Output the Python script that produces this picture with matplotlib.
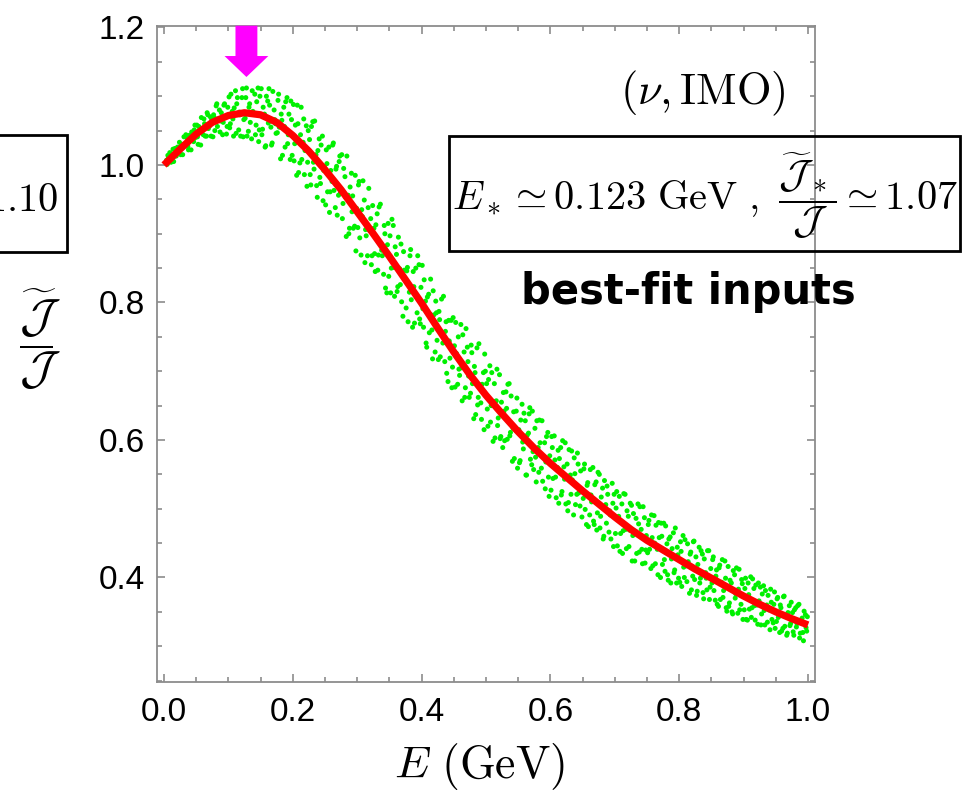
import numpy as np
import matplotlib
matplotlib.use("Agg")
import matplotlib.pyplot as plt
from matplotlib.patches import Rectangle, FancyArrow
from matplotlib.ticker import MultipleLocator

plt.rcParams["mathtext.fontset"] = "cm"
plt.rcParams["font.family"] = ["Liberation Sans", "DejaVu Sans"]

# red curve: J~/J versus E (GeV)
curve_E = [0.000, 0.025, 0.050, 0.075, 0.100, 0.125, 0.150, 0.175, 0.200, 0.225,
           0.250, 0.275, 0.300, 0.325, 0.350, 0.375, 0.400, 0.425, 0.450, 0.475,
           0.500, 0.525, 0.550, 0.575, 0.600, 0.625, 0.650, 0.675, 0.700, 0.725,
           0.750, 0.775, 0.800, 0.825, 0.850, 0.875, 0.900, 0.925, 0.950, 0.975, 1.000]
curve_J = [1.000, 1.023, 1.045, 1.062, 1.072, 1.076, 1.073, 1.062, 1.043, 1.020,
           0.993, 0.964, 0.932, 0.900, 0.867, 0.833, 0.799, 0.763, 0.728, 0.695,
           0.665, 0.638, 0.612, 0.588, 0.566, 0.546, 0.526, 0.507, 0.488, 0.470,
           0.454, 0.440, 0.426, 0.412, 0.399, 0.386, 0.373, 0.361, 0.350, 0.340, 0.331]

# green scatter points, first half
dots_E_a = [
    0.004, 0.006, 0.008, 0.010, 0.012, 0.014, 0.016, 0.019, 0.021, 0.023,
    0.026, 0.028, 0.031, 0.033, 0.036, 0.038, 0.041, 0.043, 0.046, 0.048,
    0.051, 0.053, 0.056, 0.058, 0.061, 0.063, 0.066, 0.068, 0.071, 0.073,
    0.076, 0.078, 0.081, 0.083, 0.086, 0.088, 0.091, 0.093, 0.096, 0.098,
    0.101, 0.103, 0.106, 0.108, 0.111, 0.113, 0.116, 0.118, 0.121, 0.123,
    0.126, 0.128, 0.131, 0.133, 0.136, 0.138, 0.141, 0.143, 0.146, 0.148,
    0.151, 0.153, 0.156, 0.158, 0.161, 0.163, 0.166, 0.168, 0.171, 0.173,
    0.176, 0.178, 0.181, 0.183, 0.186, 0.188, 0.191, 0.193, 0.196, 0.198,
    0.201, 0.203, 0.206, 0.208, 0.211, 0.213, 0.216, 0.218, 0.221, 0.223,
    0.226, 0.228, 0.231, 0.233, 0.236, 0.238, 0.241, 0.243, 0.246, 0.248,
    0.251, 0.253, 0.256, 0.258, 0.261, 0.263, 0.266, 0.268, 0.271, 0.273,
    0.276, 0.278, 0.281, 0.283, 0.286, 0.288, 0.291, 0.293, 0.296, 0.298,
    0.301, 0.303, 0.306, 0.308, 0.311, 0.313, 0.316, 0.318, 0.321, 0.323,
    0.326, 0.328, 0.331, 0.333, 0.336, 0.338, 0.341, 0.343, 0.346, 0.348,
    0.351, 0.353, 0.356, 0.358, 0.361, 0.363, 0.366, 0.368, 0.371, 0.373,
    0.376, 0.378, 0.381, 0.383, 0.386, 0.388, 0.391, 0.393, 0.396, 0.398,
    0.401, 0.403, 0.406, 0.408, 0.411, 0.413, 0.416, 0.418, 0.421, 0.423,
    0.426, 0.428, 0.431, 0.433, 0.436, 0.438, 0.441, 0.443, 0.446, 0.448,
    0.451, 0.453, 0.456, 0.458, 0.461, 0.463, 0.466, 0.468, 0.471, 0.473,
    0.476, 0.478, 0.481, 0.483, 0.486, 0.488, 0.491, 0.493, 0.496, 0.498,
    0.501, 0.503, 0.506, 0.508, 0.511, 0.513, 0.516, 0.518, 0.521, 0.523,
    0.526, 0.528, 0.531, 0.533, 0.536, 0.538, 0.541, 0.543, 0.546, 0.548,
    0.551, 0.553, 0.556, 0.558, 0.561, 0.563, 0.566, 0.568, 0.571, 0.573,
    0.576, 0.578, 0.581, 0.583, 0.586, 0.588, 0.591, 0.593, 0.596, 0.598,
    0.601, 0.603, 0.606, 0.608, 0.611, 0.613, 0.616, 0.618, 0.621, 0.623,
    0.626, 0.628, 0.631, 0.633, 0.636, 0.638, 0.641, 0.643, 0.646, 0.648,
    0.651, 0.653, 0.656, 0.658, 0.661, 0.663, 0.666, 0.668, 0.671, 0.673,
    0.676, 0.678, 0.681, 0.683, 0.686, 0.688, 0.691, 0.693, 0.696, 0.698,
    0.701, 0.703, 0.706, 0.708, 0.711, 0.713, 0.716, 0.718, 0.721, 0.723,
    0.726, 0.728, 0.731, 0.733, 0.736, 0.738, 0.741, 0.743, 0.746, 0.748,
    0.751, 0.753, 0.756, 0.758, 0.761, 0.763, 0.766, 0.768, 0.771, 0.773,
    0.776, 0.778, 0.781, 0.783, 0.786, 0.788, 0.791, 0.793, 0.796, 0.798,
    0.801, 0.803, 0.806, 0.808, 0.811, 0.813, 0.816, 0.818, 0.821, 0.823,
    0.826, 0.828, 0.831, 0.833, 0.836, 0.838, 0.841, 0.843, 0.846, 0.848,
    0.851, 0.853, 0.856, 0.858, 0.861, 0.863, 0.866, 0.868, 0.871, 0.873,
    0.876, 0.878, 0.881, 0.883, 0.886, 0.888, 0.891, 0.893, 0.896, 0.898,
    0.901, 0.903, 0.906, 0.908, 0.911, 0.913, 0.916, 0.918, 0.921, 0.923,
    0.926, 0.928, 0.931, 0.933, 0.936, 0.938, 0.941, 0.943, 0.946, 0.948,
    0.951, 0.953, 0.956, 0.958, 0.961, 0.963, 0.966, 0.968, 0.971, 0.973,
    0.976, 0.978, 0.981, 0.983, 0.986, 0.988, 0.991, 0.993, 0.996, 0.998,
]
dots_J_a = [
    1.007, 1.014, 1.005, 1.014, 1.005, 1.023, 1.016, 1.013, 1.026, 1.020,
    1.015, 1.030, 1.041, 1.028, 1.039, 1.022, 1.037, 1.048, 1.034, 1.058,
    1.058, 1.030, 1.052, 1.069, 1.044, 1.060, 1.042, 1.073, 1.057, 1.042,
    1.041, 1.069, 1.086, 1.056, 1.080, 1.064, 1.044, 1.087, 1.071, 1.056,
    1.099, 1.060, 1.078, 1.042, 1.108, 1.089, 1.051, 1.073, 1.098, 1.041,
    1.068, 1.112, 1.049, 1.089, 1.038, 1.078, 1.103, 1.058, 1.112, 1.051,
    1.111, 1.052, 1.074, 1.028, 1.093, 1.111, 1.055, 1.032, 1.080, 1.060,
    1.047, 1.103, 1.009, 1.065, 1.084, 1.026, 1.098, 1.044, 1.008, 1.066,
    1.088, 1.031, 0.985, 1.060, 1.003, 1.084, 1.033, 0.986, 1.057, 1.004,
    1.037, 0.971, 1.063, 0.994, 1.015, 0.953, 1.038, 0.973, 1.042, 0.992,
    0.942, 1.002, 1.026, 0.961, 0.976, 1.032, 0.938, 0.998, 0.956, 1.013,
    1.015, 0.944, 0.983, 0.896, 0.956, 0.908, 0.988, 0.955, 0.911, 0.875,
    0.909, 0.976, 0.869, 0.925, 0.949, 0.906, 0.868, 0.966, 0.922, 0.868,
    0.908, 0.845, 0.929, 0.869, 0.943, 0.876, 0.841, 0.900, 0.814, 0.915,
    0.897, 0.850, 0.912, 0.809, 0.870, 0.823, 0.849, 0.885, 0.780, 0.847,
    0.792, 0.851, 0.815, 0.877, 0.764, 0.823, 0.850, 0.785, 0.855, 0.769,
    0.854, 0.764, 0.802, 0.735, 0.812, 0.783, 0.760, 0.817, 0.728, 0.785,
    0.717, 0.775, 0.805, 0.741, 0.714, 0.772, 0.685, 0.744, 0.774, 0.706,
    0.737, 0.771, 0.681, 0.703, 0.768, 0.657, 0.728, 0.676, 0.735, 0.693,
    0.668, 0.727, 0.631, 0.698, 0.734, 0.662, 0.680, 0.630, 0.698, 0.725,
    0.682, 0.620, 0.708, 0.650, 0.598, 0.682, 0.657, 0.621, 0.695, 0.605,
    0.589, 0.642, 0.670, 0.601, 0.682, 0.611, 0.569, 0.641, 0.614, 0.661,
    0.615, 0.570, 0.652, 0.587, 0.628, 0.549, 0.610, 0.647, 0.564, 0.583,
    0.617, 0.539, 0.589, 0.629, 0.559, 0.540, 0.596, 0.568, 0.611, 0.518,
    0.527, 0.589, 0.606, 0.546, 0.560, 0.508, 0.589, 0.525, 0.561, 0.596,
    0.565, 0.509, 0.549, 0.584, 0.491, 0.551, 0.521, 0.565, 0.504, 0.526,
    0.515, 0.565, 0.477, 0.538, 0.491, 0.520, 0.560, 0.477, 0.539, 0.494,
    0.550, 0.489, 0.530, 0.460, 0.506, 0.533, 0.466, 0.491, 0.537, 0.445,
    0.464, 0.525, 0.489, 0.438, 0.507, 0.468, 0.521, 0.442, 0.489, 0.469,
    0.505, 0.461, 0.424, 0.486, 0.507, 0.437, 0.470, 0.420, 0.487, 0.440,
    0.436, 0.483, 0.413, 0.458, 0.490, 0.420, 0.441, 0.480, 0.400, 0.460,
    0.479, 0.409, 0.449, 0.396, 0.459, 0.427, 0.465, 0.411, 0.392, 0.433,
    0.393, 0.438, 0.461, 0.400, 0.417, 0.449, 0.377, 0.437, 0.402, 0.453,
    0.430, 0.380, 0.444, 0.399, 0.434, 0.369, 0.407, 0.382, 0.439, 0.386,
    0.392, 0.430, 0.367, 0.411, 0.358, 0.418, 0.393, 0.371, 0.424, 0.356,
    0.416, 0.363, 0.392, 0.347, 0.404, 0.376, 0.348, 0.412, 0.361, 0.391,
    0.353, 0.399, 0.338, 0.375, 0.401, 0.356, 0.384, 0.338, 0.360, 0.392,
    0.386, 0.347, 0.388, 0.331, 0.360, 0.374, 0.324, 0.364, 0.334, 0.379,
    0.336, 0.371, 0.320, 0.356, 0.326, 0.373, 0.345, 0.319, 0.359, 0.333,
    0.349, 0.316, 0.356, 0.333, 0.361, 0.319, 0.341, 0.308, 0.346, 0.322,
]

# green scatter points, second half
dots_E_b = [
    0.005, 0.007, 0.009, 0.011, 0.013, 0.015, 0.017, 0.020, 0.022, 0.024,
    0.027, 0.029, 0.032, 0.034, 0.037, 0.039, 0.042, 0.044, 0.047, 0.049,
    0.052, 0.054, 0.057, 0.059, 0.062, 0.064, 0.067, 0.069, 0.072, 0.074,
    0.077, 0.079, 0.082, 0.084, 0.087, 0.089, 0.092, 0.094, 0.097, 0.099,
    0.102, 0.104, 0.107, 0.109, 0.112, 0.114, 0.117, 0.119, 0.122, 0.124,
    0.127, 0.129, 0.132, 0.134, 0.137, 0.139, 0.142, 0.144, 0.147, 0.149,
    0.152, 0.154, 0.157, 0.159, 0.162, 0.164, 0.167, 0.169, 0.172, 0.174,
    0.177, 0.179, 0.182, 0.184, 0.187, 0.189, 0.192, 0.194, 0.197, 0.199,
    0.202, 0.204, 0.207, 0.209, 0.212, 0.214, 0.217, 0.219, 0.222, 0.224,
    0.227, 0.229, 0.232, 0.234, 0.237, 0.239, 0.242, 0.244, 0.247, 0.249,
    0.252, 0.254, 0.257, 0.259, 0.262, 0.264, 0.267, 0.269, 0.272, 0.274,
    0.277, 0.279, 0.282, 0.284, 0.287, 0.289, 0.292, 0.294, 0.297, 0.299,
    0.302, 0.304, 0.307, 0.309, 0.312, 0.314, 0.317, 0.319, 0.322, 0.324,
    0.327, 0.329, 0.332, 0.334, 0.337, 0.339, 0.342, 0.344, 0.347, 0.349,
    0.352, 0.354, 0.357, 0.359, 0.362, 0.364, 0.367, 0.369, 0.372, 0.374,
    0.377, 0.379, 0.382, 0.384, 0.387, 0.389, 0.392, 0.394, 0.397, 0.399,
    0.402, 0.404, 0.407, 0.409, 0.412, 0.414, 0.417, 0.419, 0.422, 0.424,
    0.427, 0.429, 0.432, 0.434, 0.437, 0.439, 0.442, 0.444, 0.447, 0.449,
    0.452, 0.454, 0.457, 0.459, 0.462, 0.464, 0.467, 0.469, 0.472, 0.474,
    0.477, 0.479, 0.482, 0.484, 0.487, 0.489, 0.492, 0.494, 0.497, 0.499,
    0.502, 0.504, 0.507, 0.509, 0.512, 0.514, 0.517, 0.519, 0.522, 0.524,
    0.527, 0.529, 0.532, 0.534, 0.537, 0.539, 0.542, 0.544, 0.547, 0.549,
    0.552, 0.554, 0.557, 0.559, 0.562, 0.564, 0.567, 0.569, 0.572, 0.574,
    0.577, 0.579, 0.582, 0.584, 0.587, 0.589, 0.592, 0.594, 0.597, 0.599,
    0.602, 0.604, 0.607, 0.609, 0.612, 0.614, 0.617, 0.619, 0.622, 0.624,
    0.627, 0.629, 0.632, 0.634, 0.637, 0.639, 0.642, 0.644, 0.647, 0.649,
    0.652, 0.654, 0.657, 0.659, 0.662, 0.664, 0.667, 0.669, 0.672, 0.674,
    0.677, 0.679, 0.682, 0.684, 0.687, 0.689, 0.692, 0.694, 0.697, 0.699,
    0.702, 0.704, 0.707, 0.709, 0.712, 0.714, 0.717, 0.719, 0.722, 0.724,
    0.727, 0.729, 0.732, 0.734, 0.737, 0.739, 0.742, 0.744, 0.747, 0.749,
    0.752, 0.754, 0.757, 0.759, 0.762, 0.764, 0.767, 0.769, 0.772, 0.774,
    0.777, 0.779, 0.782, 0.784, 0.787, 0.789, 0.792, 0.794, 0.797, 0.799,
    0.802, 0.804, 0.807, 0.809, 0.812, 0.814, 0.817, 0.819, 0.822, 0.824,
    0.827, 0.829, 0.832, 0.834, 0.837, 0.839, 0.842, 0.844, 0.847, 0.849,
    0.852, 0.854, 0.857, 0.859, 0.862, 0.864, 0.867, 0.869, 0.872, 0.874,
    0.877, 0.879, 0.882, 0.884, 0.887, 0.889, 0.892, 0.894, 0.897, 0.899,
    0.902, 0.904, 0.907, 0.909, 0.912, 0.914, 0.917, 0.919, 0.922, 0.924,
    0.927, 0.929, 0.932, 0.934, 0.937, 0.939, 0.942, 0.944, 0.947, 0.949,
    0.952, 0.954, 0.957, 0.959, 0.962, 0.964, 0.967, 0.969, 0.972, 0.974,
    0.977, 0.979, 0.982, 0.984, 0.987, 0.989, 0.992, 0.994, 0.997, 0.999,
]
dots_J_b = [
    1.001, 1.012, 1.018, 1.004, 1.013, 1.005, 1.024, 1.021, 1.017, 1.033,
    1.030, 1.015, 1.030, 1.044, 1.027, 1.043, 1.022, 1.041, 1.051, 1.040,
    1.041, 1.056, 1.029, 1.051, 1.067, 1.042, 1.076, 1.053, 1.070, 1.067,
    1.073, 1.050, 1.089, 1.067, 1.048, 1.076, 1.062, 1.089, 1.045, 1.084,
    1.054, 1.103, 1.067, 1.083, 1.046, 1.098, 1.077, 1.042, 1.111, 1.066,
    1.098, 1.042, 1.084, 1.062, 1.108, 1.074, 1.044, 1.092, 1.034, 1.100,
    1.044, 1.084, 1.026, 1.100, 1.061, 1.087, 1.029, 1.107, 1.066, 1.046,
    1.094, 1.055, 1.074, 1.014, 1.056, 1.092, 1.031, 1.074, 1.093, 1.014,
    1.006, 1.058, 1.087, 0.989, 1.044, 1.008, 1.067, 1.021, 0.969, 1.050,
    0.986, 1.056, 1.004, 1.064, 0.970, 1.021, 0.982, 1.029, 0.948, 0.998,
    1.022, 0.961, 0.931, 0.992, 1.029, 0.963, 0.994, 0.927, 1.005, 0.960,
    0.922, 0.995, 0.953, 1.013, 0.900, 0.968, 0.932, 0.908, 0.985, 0.937,
    0.971, 0.894, 0.935, 0.977, 0.858, 0.897, 0.938, 0.905, 0.855, 0.941,
    0.871, 0.913, 0.847, 0.939, 0.886, 0.868, 0.912, 0.821, 0.884, 0.838,
    0.814, 0.921, 0.851, 0.881, 0.816, 0.895, 0.826, 0.801, 0.874, 0.835,
    0.846, 0.772, 0.868, 0.804, 0.845, 0.770, 0.809, 0.868, 0.776, 0.822,
    0.791, 0.833, 0.741, 0.808, 0.756, 0.834, 0.718, 0.782, 0.802, 0.745,
    0.787, 0.721, 0.753, 0.809, 0.758, 0.697, 0.774, 0.719, 0.676, 0.778,
    0.677, 0.726, 0.750, 0.694, 0.705, 0.753, 0.662, 0.762, 0.714, 0.662,
    0.738, 0.682, 0.707, 0.637, 0.651, 0.740, 0.654, 0.681, 0.615, 0.700,
    0.645, 0.688, 0.626, 0.698, 0.656, 0.603, 0.703, 0.632, 0.602, 0.655,
    0.669, 0.599, 0.646, 0.681, 0.606, 0.664, 0.617, 0.573, 0.642, 0.559,
    0.567, 0.629, 0.597, 0.639, 0.549, 0.607, 0.638, 0.572, 0.642, 0.557,
    0.575, 0.628, 0.553, 0.596, 0.628, 0.575, 0.529, 0.605, 0.546, 0.577,
    0.605, 0.544, 0.571, 0.516, 0.585, 0.573, 0.520, 0.599, 0.543, 0.507,
    0.497, 0.586, 0.521, 0.542, 0.574, 0.506, 0.581, 0.523, 0.555, 0.488,
    0.558, 0.499, 0.534, 0.474, 0.557, 0.510, 0.482, 0.535, 0.469, 0.553,
    0.472, 0.517, 0.456, 0.541, 0.479, 0.521, 0.497, 0.456, 0.508, 0.521,
    0.501, 0.446, 0.518, 0.464, 0.435, 0.522, 0.470, 0.497, 0.445, 0.508,
    0.424, 0.493, 0.467, 0.435, 0.478, 0.503, 0.441, 0.503, 0.421, 0.461,
    0.477, 0.441, 0.491, 0.417, 0.450, 0.476, 0.404, 0.458, 0.479, 0.419,
    0.426, 0.475, 0.404, 0.456, 0.392, 0.442, 0.407, 0.472, 0.444, 0.399,
    0.452, 0.387, 0.415, 0.455, 0.394, 0.423, 0.434, 0.382, 0.452, 0.397,
    0.374, 0.419, 0.392, 0.439, 0.378, 0.427, 0.399, 0.439, 0.368, 0.413,
    0.426, 0.381, 0.402, 0.361, 0.414, 0.368, 0.426, 0.381, 0.399, 0.351,
    0.358, 0.396, 0.350, 0.410, 0.370, 0.414, 0.383, 0.353, 0.397, 0.339,
    0.384, 0.339, 0.392, 0.354, 0.342, 0.398, 0.359, 0.389, 0.332, 0.366,
    0.331, 0.376, 0.352, 0.381, 0.335, 0.353, 0.383, 0.339, 0.361, 0.326,
    0.369, 0.342, 0.360, 0.322, 0.372, 0.329, 0.316, 0.349, 0.330, 0.364,
    0.321, 0.353, 0.328, 0.359, 0.312, 0.338, 0.320, 0.351, 0.327, 0.343,
]

E_star = 0.128          # where the magenta arrow points
x_ticks = [0.0, 0.2, 0.4, 0.6, 0.8, 1.0]
y_ticks = [0.4, 0.6, 0.8, 1.0, 1.2]

W, H = 963, 791
fig = plt.figure(figsize=(W / 100, H / 100), dpi=100)
ax = fig.add_axes([157.3 / W, 1 - 682 / H, (815 - 157.3) / W, (682 - 25.7) / H])

ax.scatter(dots_E_a + dots_E_b, dots_J_a + dots_J_b, s=13, color="#00f000",
           edgecolors="none", zorder=2)
ax.plot(curve_E, curve_J, color="#ff0000", lw=5.2, solid_capstyle="butt",
        solid_joinstyle="round", zorder=3)

ax.set_xlim(-0.0104, 1.0109)
ax.set_ylim(0.248, 1.2026)

# magenta arrow at the top
ax.add_patch(FancyArrow(E_star, 1.2026, 0, -(1.2026 - 1.128), width=0.034,
                        head_width=0.068, head_length=0.0305,
                        length_includes_head=True, color="#ff00ff", lw=0,
                        zorder=4, clip_on=False))

ax.set_xticks(x_ticks)
ax.set_yticks(y_ticks)
ax.set_xticklabels([f"{v:.1f}" for v in x_ticks])
ax.set_yticklabels([f"{v:.1f}" for v in y_ticks])
ax.xaxis.set_minor_locator(MultipleLocator(0.05))
ax.yaxis.set_minor_locator(MultipleLocator(0.05))
ax.tick_params(which="both", direction="in", top=True, right=True,
               color="#8c8c8c", width=1.2, labelsize=24)
ax.tick_params(which="major", length=6)
ax.tick_params(which="minor", length=3.5)
ax.tick_params(axis="y", pad=9)
ax.tick_params(axis="x", pad=11)
for sp in ax.spines.values():
    sp.set_color("#8c8c8c")
    sp.set_linewidth(1.3)

ax.set_xlabel(r"$E\ (\mathrm{GeV})$", fontsize=33)
ax.xaxis.set_label_coords((480 - 157.3) / (815 - 157.3), (682 - 741) / (682 - 25.7))
fig.text(40 / W, 1 - 340 / H, r"$\dfrac{\widetilde{\mathcal{J}}}{\mathcal{J}}$",
         fontsize=34, ha="center", va="center")

# annotation boxes
fig.patches.append(Rectangle((449 / W, 1 - 251 / H), (960 - 449) / W, 115 / H,
                             transform=fig.transFigure, fill=False, ec="black",
                             lw=2, zorder=5))
fig.text(705 / W, 1 - 196 / H,
         r"$E_*\simeq 0.123\ \mathrm{GeV}\ ,\ \dfrac{\widetilde{\mathcal{J}}_*}{\mathcal{J}}\simeq 1.07$",
         fontsize=29, ha="center", va="center")
fig.patches.append(Rectangle((-200 / W, 1 - 252 / H), (67 + 200) / W, 117 / H,
                             transform=fig.transFigure, fill=False, ec="black",
                             lw=2, zorder=5))
fig.text(58 / W, 1 - 198 / H,
         r"$\dfrac{\widetilde{\mathcal{J}}_*}{\mathcal{J}}\simeq 1.10$",
         fontsize=29, ha="right", va="center")

fig.text(785 / W, 1 - 93 / H, r"$(\nu,\mathrm{IMO})$", fontsize=32,
         ha="right", va="center")
fig.text(688 / W, 1 - 292 / H, "best-fit inputs", fontsize=30,
         fontweight="bold", family="DejaVu Sans", ha="center", va="center")

fig.savefig("out.png", dpi=100)
